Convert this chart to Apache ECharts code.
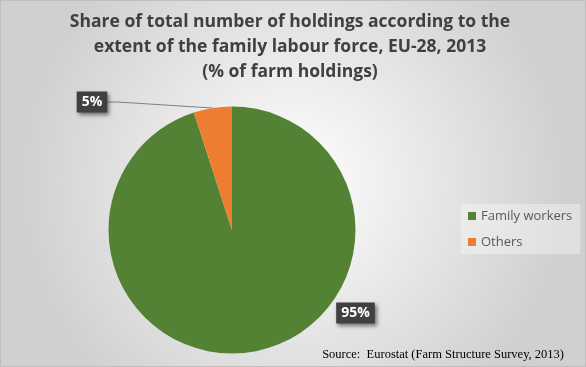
<!DOCTYPE html>
<html><head><meta charset="utf-8">
<script src="https://cdn.jsdelivr.net/npm/echarts@6/dist/echarts.min.js"></script>
<style>html,body{margin:0;padding:0;background:#fff}#c{width:586px;height:367px;box-sizing:border-box;border:1px solid #bfbfbf}</style>
</head><body><div id="c"></div>
<script>
const titleLines = ['Share of total number of holdings according to the', 'extent of the family labour force, EU-28, 2013', '(% of farm holdings)'];
const categories = ['Family workers', 'Others'];
const values = [95, 5];
const colors = ['#548235', '#ED7D31'];
const sourceText = 'Source:  Eurostat (Farm Structure Survey, 2013)';

const chart = echarts.init(document.getElementById('c'), null, {renderer: 'canvas'});
chart.setOption({
  backgroundColor: {type: 'radial', x: 0.5, y: 0.5, r: 0.75, colorStops: [{offset: 0, color: '#ffffff'}, {offset: 1, color: '#d0d0d0'}]},
  animation: false,
  title: [{
    text: titleLines.join('\n'), left: 289, top: 9, textAlign: 'center', padding: 0,
    textStyle: {fontFamily: 'Open Sans', fontWeight: 'bold', fontSize: 17.5, color: '#404040', lineHeight: 25}
  }, {
    text: sourceText, right: 21, bottom: 5, padding: 0,
    textStyle: {fontFamily: 'Liberation Serif', fontWeight: 'normal', fontSize: 12.5, color: '#000'}
  }],
  legend: {
    orient: 'vertical', left: 460, top: 203, itemWidth: 8, itemHeight: 8, itemGap: 10, itemTextGap: 4,
    icon: 'rect', padding: [4, 8, 4, 7], backgroundColor: 'rgba(255,255,255,0.35)',
    textStyle: {fontFamily: 'Open Sans', fontSize: 13, color: '#595959', lineHeight: 16},
    data: categories
  },
  series: [{
    type: 'pie', center: [231, 229], radius: 123.5, startAngle: 90, clockwise: true,
    color: colors,
    data: categories.map((c, i) => ({name: c, value: values[i], labelLine: {show: i === 1}})),
    label: {
      show: true, formatter: p => p.value + '%', position: 'outside',
      backgroundColor: '#404040', color: '#fff', fontFamily: 'Open Sans', fontWeight: 'bold', fontSize: 14,
      padding: [4, 5, 3, 5], shadowColor: 'rgba(0,0,0,0.5)', shadowBlur: 4, shadowOffsetX: 2, shadowOffsetY: 2
    },
    labelLine: {show: true, lineStyle: {color: '#7f7f7f', width: 1}, length: 10, length2: 10},
    labelLayout: function (p) {
      if (p.dataIndex === 0) return {x: 354.5, y: 312, align: 'center', verticalAlign: 'middle'};
      return {x: 91, y: 101, align: 'center', verticalAlign: 'middle'};
    },
    emphasis: {disabled: true}
  }]
});
</script></body></html>
